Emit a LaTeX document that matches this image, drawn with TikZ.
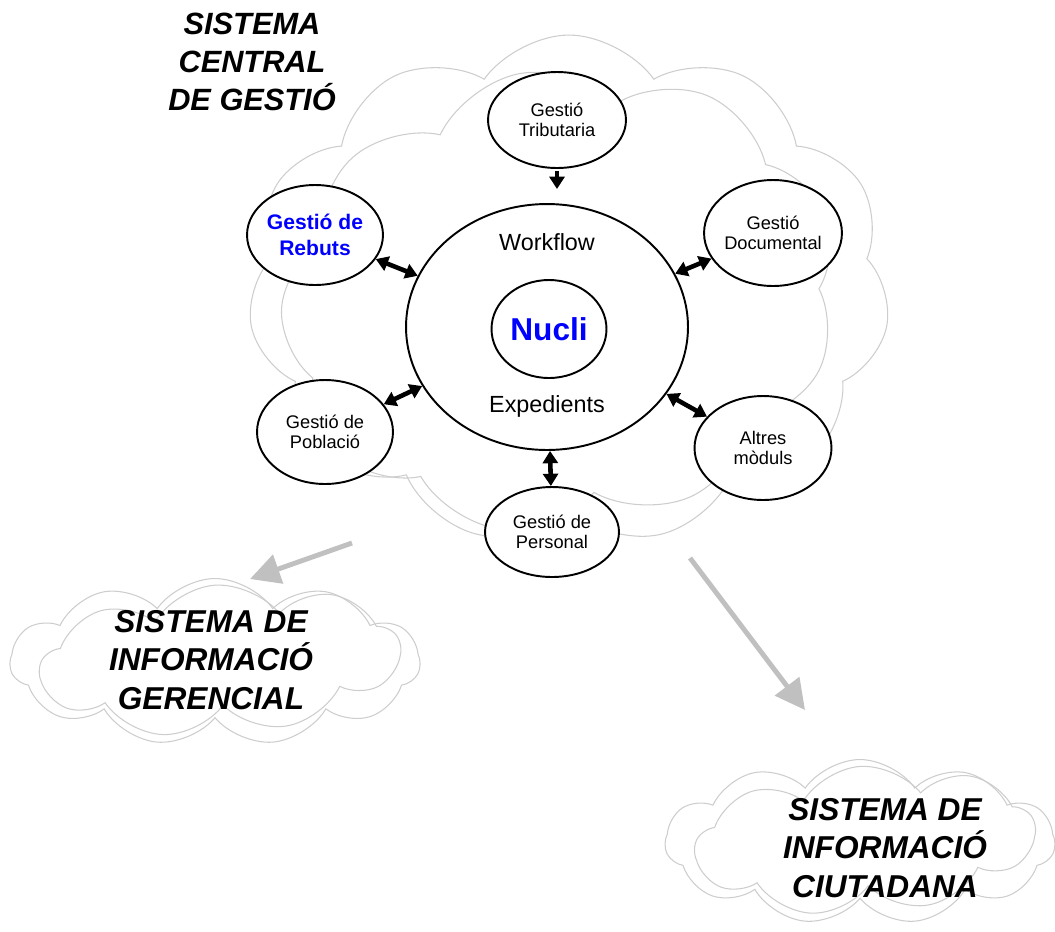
\documentclass[tikz,border=0pt]{standalone}
\usepackage{fontspec}
\setmainfont{Liberation Sans}
\usetikzlibrary{shapes.geometric,shapes.symbols,arrows.meta}
\definecolor{cloudgray}{RGB}{205,205,205}
\definecolor{arrgray}{RGB}{192,192,192}
\definecolor{nucblue}{RGB}{0,0,255}
\begin{document}
\begin{tikzpicture}[x=0.02cm,y=-0.02cm,
  cloudbox/.style={shape=cloud, draw=cloudgray, line width=0.6pt, cloud puffs=11, cloud puff arc=110, inner sep=0pt},
  modbox/.style={ellipse, draw, line width=1.1pt, fill=white, inner sep=0pt, align=center, font=\fontsize{10.4}{11.5}\selectfont},
  dbl/.style={{Triangle[length=7pt,width=8.5pt]}-{Triangle[length=7pt,width=8.5pt]}, line width=2.6pt},
  sgl/.style={-{Triangle[length=7pt,width=8.5pt]}, line width=2.6pt},
  grayarrow/.style={-{Triangle[length=17pt,width=17pt]}, draw=arrgray, line width=2.8pt},
  bigtxt/.style={font=\fontsize{17.5}{21.5}\selectfont\bfseries\itshape, align=center},
  cloudtxt/.style={font=\fontsize{18}{22}\selectfont\bfseries\itshape, align=center}]
\useasboundingbox (0,0) rectangle (1055,931);

% clouds
\node[cloudbox, minimum width=12.84cm, minimum height=10.2cm] (cl1) at (569,290) {};
\node[cloudbox, cloud puffs=9, minimum width=11.2cm, minimum height=9.2cm, rotate=10] (cl1b) at (560,300) {};
\node[cloudbox, minimum width=8.2cm, minimum height=3.34cm] (cl2) at (215,662) {};
\node[cloudbox, cloud puffs=9, minimum width=7.2cm, minimum height=3.0cm, rotate=4] (cl2b) at (220,660) {};
\node[cloudbox, minimum width=7.8cm, minimum height=3.3cm] (cl3) at (860,842) {};
\node[cloudbox, cloud puffs=9, minimum width=6.8cm, minimum height=2.95cm, rotate=4] (cl3b) at (865,840) {};

% title texts
\node[bigtxt] (t1) at (252,62) {SISTEMA\\CENTRAL\\DE GESTIÓ};
\node[cloudtxt] (t2) at (211,660) {SISTEMA DE\\INFORMACIÓ\\GERENCIAL};
\node[cloudtxt] (t3) at (885,848) {SISTEMA DE\\INFORMACIÓ\\CIUTADANA};

% central
\node[ellipse, draw, line width=1.1pt, fill=white, minimum width=5.64cm, minimum height=4.92cm] (wf) at (547,327) {};
\node[ellipse, draw, line width=1.1pt, fill=white, minimum width=2.3cm, minimum height=1.96cm, inner sep=0pt,
      font=\fontsize{18}{20}\selectfont\bfseries, text=nucblue] (nuc) at (549,329) {Nucli};
\node[anchor=base, font=\fontsize{13.3}{15}\selectfont] (wft) at (547,250) {Workflow};
\node[anchor=base, font=\fontsize{13.3}{15}\selectfont] (ext) at (547,412) {Expedients};

% modules
\node[modbox, minimum width=2.76cm, minimum height=1.92cm] (trib) at (557,120) {Gestió\\Tributaria};
\node[modbox, minimum width=2.72cm, minimum height=2.0cm, text=nucblue, font=\fontsize{12}{15}\selectfont\bfseries] (reb) at (315,235) {Gestió de\\Rebuts};
\node[modbox, minimum width=2.72cm, minimum height=2.12cm] (doc) at (773,233) {Gestió\\Documental};
\node[modbox, minimum width=2.72cm, minimum height=2.08cm] (pob) at (325,432) {Gestió de\\Població};
\node[modbox, minimum width=2.74cm, minimum height=2.08cm] (alt) at (763,448) {Altres\\mòduls};
\node[modbox, minimum width=2.68cm, minimum height=1.8cm] (pers) at (552,532) {Gestió de\\Personal};

% connectors
\draw[sgl, shorten <=1pt, shorten >=8pt] (trib) -- (wf.north -| trib.south);
\draw[dbl] (reb) -- (wf);
\draw[dbl] (doc) -- (wf);
\draw[dbl] (pob) -- (wf);
\draw[dbl] (alt) -- (wf);
\draw[dbl] (pers) -- (wf);

% gray arrows
\coordinate (g1s) at (352,543);
\coordinate (g1e) at (250,579);
\coordinate (g2s) at (690,558);
\coordinate (g2e) at (805,710);
\draw[grayarrow] (g1s) -- (g1e);
\draw[grayarrow] (g2s) -- (g2e);
\end{tikzpicture}
\end{document}
